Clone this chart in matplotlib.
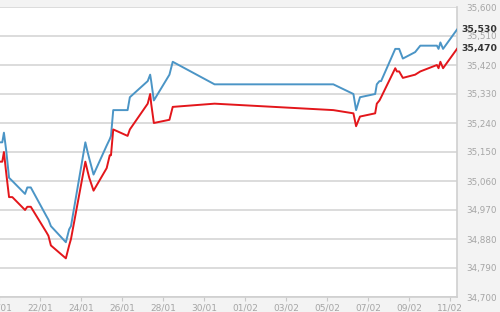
import matplotlib
matplotlib.use("Agg")
import matplotlib.pyplot as plt
import matplotlib.dates as mdates
import numpy as np
from datetime import datetime, timedelta

# time of each quote, in days after 20/01 00:00
day_offsets = [0.0, 0.16, 0.24, 0.36, 0.49, 0.65, 1.27, 1.38, 1.55, 2.32, 2.41, 2.53,
               3.26, 3.42, 3.51, 4.21, 4.32, 4.40, 4.61, 5.25, 5.40, 5.46, 5.57, 6.27,
               6.38, 7.25, 7.37, 7.42, 7.55, 8.31, 8.47, 10.51, 16.30, 17.28, 17.41, 17.60,
               18.34, 18.42, 18.55, 18.63, 19.32, 19.40, 19.51, 19.69, 20.29, 20.54, 21.35,
               21.43, 21.52, 21.65, 22.33]

# sell price (blue)
sell = [35180, 35180, 35210, 35150, 35070, 35060, 35020, 35040, 35040, 34950, 34940, 34920,
        34870, 34910, 34920, 35180, 35150, 35130, 35080, 35170, 35190, 35200, 35280, 35280,
        35320, 35370, 35390, 35370, 35310, 35390, 35430, 35360, 35360, 35330, 35280, 35320,
        35330, 35360, 35370, 35370, 35470, 35470, 35470, 35440, 35460, 35480, 35480,
        35470, 35490, 35470, 35530]

# buy price (red)
buy = [35120, 35120, 35150, 35080, 35010, 35010, 34970, 34980, 34980, 34900, 34890, 34860,
       34820, 34860, 34880, 35120, 35090, 35070, 35030, 35100, 35140, 35140, 35220, 35200,
       35220, 35300, 35330, 35300, 35240, 35250, 35290, 35300, 35280, 35270, 35230, 35260,
       35270, 35300, 35310, 35320, 35410, 35400, 35400, 35380, 35390, 35400, 35420,
       35410, 35430, 35410, 35470]

y_ticks = [34700, 34790, 34880, 34970, 35060, 35150, 35240, 35330, 35420, 35510, 35600]
x_ticks = ["20/01", "22/01", "24/01", "26/01", "28/01", "30/01", "01/02", "03/02",
           "05/02", "07/02", "09/02", "11/02"]

start = datetime(2017, 1, 20)
times = [start + timedelta(days=d) for d in day_offsets]

fig = plt.figure(figsize=(5, 3.12), dpi=100, facecolor="#f3f3f3")
ax = fig.add_axes([-0.002, 1 - 297 / 312, 0.916, 290 / 312])
ax.set_facecolor("white")

ax.plot(times, sell, color="#4b95c6", lw=1.4, zorder=3)
ax.plot(times, buy, color="#e3161b", lw=1.4, zorder=3)

ax.set_ylim(34700, 35600)
ax.set_yticks(y_ticks)
ax.set_yticklabels(["{:,}".format(v) for v in y_ticks])
ax.yaxis.tick_right()
ax.tick_params(axis="y", length=0, pad=7, labelsize=6.3, labelcolor="#a5a5a5")

tick_dates = [datetime.strptime(t + "/2017", "%d/%m/%Y") for t in x_ticks]
ax.set_xticks(tick_dates)
ax.set_xticklabels(x_ticks)
ax.set_xlim(times[0], times[-1])
ax.tick_params(axis="x", length=3, width=0.8, color="#c8c8c8", pad=2,
               labelsize=6.5, labelcolor="#a5a5a5")

ax.grid(axis="y", color="#d5d5d5", lw=1.2)
ax.set_axisbelow(True)
for s in ["left", "top"]:
    ax.spines[s].set_visible(False)
ax.spines["right"].set_color("#cfcfcf")
ax.spines["bottom"].set_color("#cfcfcf")
ax.spines["right"].set_linewidth(1.2)
ax.spines["bottom"].set_linewidth(1.2)

# latest values shown on the right axis
for v in [sell[-1], buy[-1]]:
    ax.annotate("{:,}".format(v), xy=(1, v), xycoords=("axes fraction", "data"),
                xytext=(3.5, 0), textcoords="offset points", ha="left", va="center",
                fontsize=6.7, color="#333333", fontweight="bold")

fig.savefig("out.png", dpi=100, facecolor=fig.get_facecolor())
